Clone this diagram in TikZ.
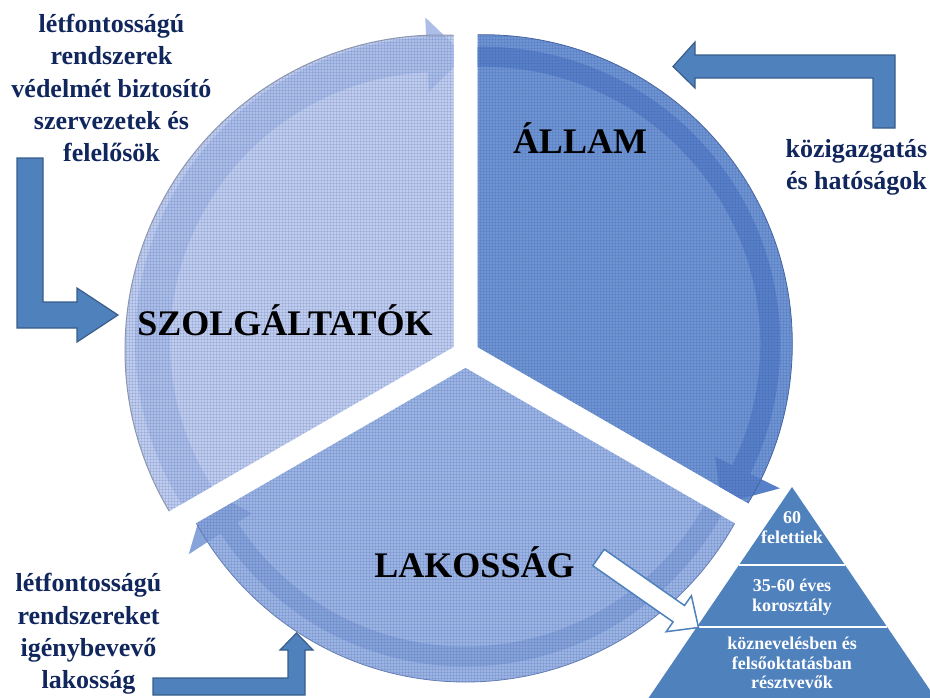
\documentclass[tikz,border=0pt]{standalone}
\usepackage{fontspec}
\setmainfont{Liberation Serif}
\usetikzlibrary{calc}

\definecolor{allamfill}{RGB}{110,148,210}
\definecolor{allamband}{RGB}{88,128,200}
\definecolor{allamedge}{RGB}{70,100,160}
\definecolor{szolgfill}{RGB}{192,205,238}
\definecolor{szolgband}{RGB}{172,190,232}
\definecolor{szolgedge}{RGB}{140,150,175}
\definecolor{lakosfill}{RGB}{156,180,228}
\definecolor{lakosband}{RGB}{134,163,218}
\definecolor{lakosedge}{RGB}{100,125,180}
\definecolor{meshblue}{RGB}{40,70,150}
\definecolor{arrowblue}{RGB}{79,129,189}
\definecolor{arrowedge}{RGB}{56,93,138}
\definecolor{navy}{RGB}{16,38,92}

% fine mesh laid over the pie pieces
\newcommand\meshlines{%
  \draw[meshline] \foreach \i in {0,3,...,930} {(\i,0) -- (\i,697)};
  \draw[meshline] \foreach \j in {0,3,...,697} {(0,\j) -- (930,\j)};
}

\tikzset{
  meshline/.style={meshblue, opacity=0.13, line width=0.6pt},
  bluearrow/.style={fill=arrowblue, draw=arrowedge, line width=1.2pt, line join=miter},
  sidetext/.style={text=navy, font=\bfseries\fontsize{26}{32.3}\selectfont, align=center, inner sep=0pt},
  biglabel/.style={text=black, font=\bfseries\fontsize{36}{40}\selectfont, inner sep=0pt, anchor=base},
  pyrtext/.style={text=white, font=\bfseries\fontsize{18}{19.5}\selectfont, align=center, inner sep=0pt},
}

\begin{document}
\begin{tikzpicture}[x=1pt,y=-1pt]
\useasboundingbox (0,0) rectangle (930,697);
\clip (0,0) rectangle (930,697);

% apexes of the three pieces (gap of 24 between neighbours)
\coordinate (apexA) at (477.5,347.07);
\coordinate (apexS) at (453.5,347.07);
\coordinate (apexL) at (465.5,367.86);
\coordinate (cA) at (483.3,343.7);
\coordinate (cS) at (440,350);
\coordinate (cL) at (465.5,374.5);

% ---- ÁLLAM piece ----
\begin{scope}
  \clip (apexA) -- +(-90:1000) -- +(-30:2000) -- +(30:1000) -- cycle;
  \fill[allamfill] (cA) circle[radius=309pt];
  \fill[allamband]
    plot[domain=-100:26,samples=80] ({483.3+297*cos(\x)},{343.7+297*sin(\x)})
    -- ({483.3+330*cos(26)},{343.7+330*sin(26)})
    -- ({483.3+287*cos(34)},{343.7+287*sin(34)})
    -- ({483.3+258*cos(26)},{343.7+258*sin(26)})
    -- plot[domain=26:-100,samples=80] ({483.3+277*cos(\x)},{343.7+277*sin(\x)})
    -- cycle;
  \begin{scope}
    \clip (cA) circle[radius=309pt];
    \meshlines
  \end{scope}
  \draw[allamedge, line width=0.8pt] (cA) circle[radius=309pt];
\end{scope}

% ---- SZOLGÁLTATÓK piece ----
\begin{scope}
  \clip (apexS) -- +(150:1000) -- +(210:2000) -- +(270:1000) -- cycle;
  \fill[szolgfill] (cS) circle[radius=315pt];
  \fill[szolgband]
    plot[domain=140:267.4,samples=80] ({440+305*cos(\x)},{342+305*sin(\x)})
    -- ({440+325*cos(267.4)},{342+325*sin(267.4)})
    -- ({440+287.5*cos(275)},{342+287.5*sin(275)})
    -- ({440+250*cos(267.4)},{342+250*sin(267.4)})
    -- plot[domain=267.4:140,samples=80] ({440+270*cos(\x)},{342+270*sin(\x)})
    -- cycle;
  \begin{scope}
    \clip (cS) circle[radius=315pt];
    \meshlines
  \end{scope}
  \draw[szolgedge, line width=1pt] (cS) circle[radius=315pt];
\end{scope}

% ---- LAKOSSÁG piece ----
\begin{scope}
  \clip (apexL) -- +(30:1000) -- +(90:2000) -- +(150:1000) -- cycle;
  \fill[lakosfill] (cL) circle[radius=307.5pt];
  \fill[lakosband]
    plot[domain=20:147,samples=80] ({465.5+292*cos(\x)},{374.5+292*sin(\x)})
    -- ({465.5+330*cos(147)},{374.5+330*sin(147)})
    -- ({465.5+282*cos(156)},{374.5+282*sin(156)})
    -- ({465.5+255*cos(147)},{374.5+255*sin(147)})
    -- plot[domain=147:20,samples=80] ({465.5+272*cos(\x)},{374.5+272*sin(\x)})
    -- cycle;
  \begin{scope}
    \clip (cL) circle[radius=307.5pt];
    \meshlines
  \end{scope}
  \draw[lakosedge, line width=0.8pt] (cL) circle[radius=307.5pt];
\end{scope}

% ---- age pyramid ----
\fill[arrowblue] (792,487) -- (943.6,710) -- (640.4,710) -- cycle;
\draw[white, line width=2.5pt] (739,565) -- (845,565);
\draw[white, line width=2.5pt] (696.8,627) -- (887.2,627);

% ---- hollow arrow towards the pyramid ----
\draw[fill=white, draw=arrowblue, line width=1.5pt, line join=miter]
  (592.8,565.7) -- (604.2,549.3) -- (684.5,605.5) -- (691.4,595.7)
  -- (698.5,627.5) -- (666.2,631.7) -- (673.1,621.9) -- cycle;

% ---- bent block arrows ----
\draw[bluearrow] (17,158) -- (43,158) -- (43,302) -- (77,302) -- (77,288)
  -- (118,315) -- (77,342) -- (77,328) -- (17,328) -- cycle;
\draw[bluearrow] (895,55) -- (895,128) -- (873,128) -- (873,78) -- (695,78)
  -- (695,88) -- (673,66.5) -- (695,42) -- (695,55) -- cycle;
\draw[bluearrow] (153,678) -- (288,678) -- (288,650) -- (280,650) -- (296.5,633)
  -- (313,650) -- (305,650) -- (305,695) -- (153,695) -- cycle;

% ---- labels ----
\node[biglabel] (allam) at (580,153) {ÁLLAM};
\node[biglabel] (szolg) at (285,335) {SZOLGÁLTATÓK};
\node[biglabel] (lakos) at (474.5,577) {LAKOSSÁG};

\node[sidetext] (textTL) at (111.5,88) {létfontosságú\\rendszerek\\védelmét biztosító\\szervezetek és\\felelősök};
\node[sidetext] (textR) at (856.5,167) {közigazgatás\\és hatóságok};
\node[sidetext] (textBL) at (88.5,634) {létfontosságú\\rendszereket\\igénybevevő\\lakosság};

\node[pyrtext] (py1) at (792,527.5) {60\\felettiek};
\node[pyrtext] (py2) at (792,597) {35-60 éves\\korosztály};
\node[pyrtext] (py3) at (792,663) {köznevelésben és\\felsőoktatásban\\résztvevők};
\end{tikzpicture}
\end{document}
